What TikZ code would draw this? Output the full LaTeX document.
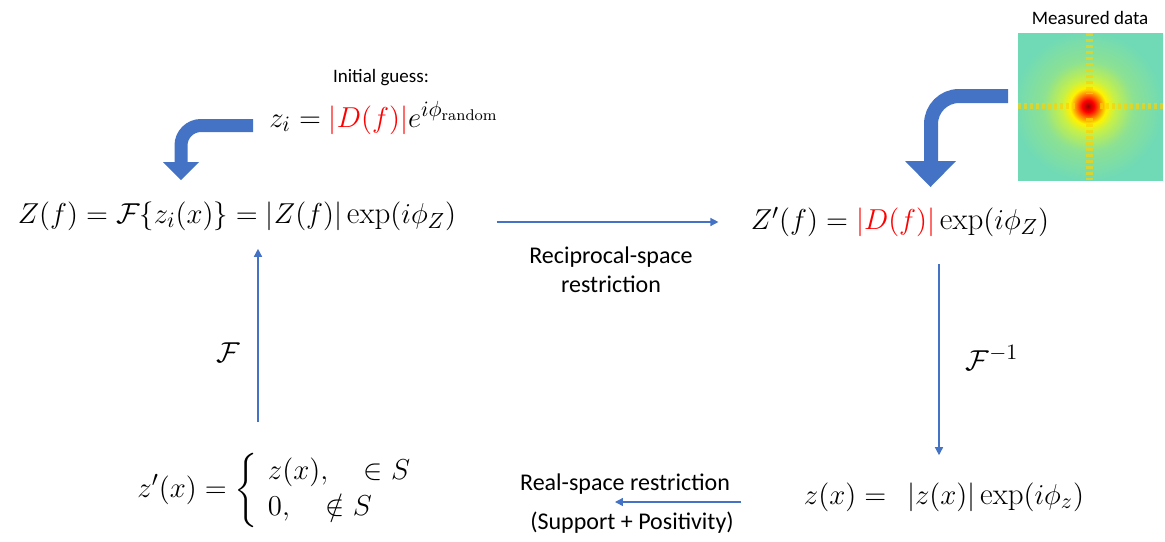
\documentclass[tikz,border=0pt]{standalone}
\usepackage{amsmath,amssymb}
\usepackage{fontspec}
\newfontfamily\calib{Carlito}
\usetikzlibrary{arrows.meta,calc}
\definecolor{pptblue}{RGB}{68,114,196}
\definecolor{mapbase}{RGB}{112,218,182}
\pgfdeclareradialshading{peak}{\pgfpoint{0bp}{0bp}}{color(0bp)=(red!60!black);color(2bp)=(red);color(4bp)=(orange);color(6bp)=(yellow!90!orange);color(9bp)=(yellow!60!mapbase);color(15bp)=(mapbase!80!yellow);color(25bp)=(mapbase);color(50bp)=(mapbase)}

\begin{document}
\begin{tikzpicture}[x=0.5pt,y=-0.5pt,
  eq/.style={inner sep=0pt,font=\fontsize{15.5}{18}\selectfont},
  lab/.style={inner sep=0pt,font=\calib\fontsize{12}{14.5}\selectfont},
  small/.style={inner sep=0pt,font=\calib\fontsize{9.5}{11}\selectfont},
  flow/.style={draw=pptblue,line width=0.7pt,-{Triangle[length=4pt,width=4pt]}},
  blockarrow/.style={draw=pptblue,line width=6.5pt},
  streak/.style={draw=yellow!70!orange,opacity=.7,dash pattern=on 1.5pt off 1.5pt}]
\useasboundingbox (0,0) rectangle (1165,541);
% measured diffraction pattern
\node[small] (measlab) at (1090,18) {Measured data};
\begin{scope}
\clip (1018,33) rectangle (1165,180);
\shade[shading=peak] (1013,31) rectangle (1163,181);
\draw[streak,line width=3.5pt] (1089,33) -- (1089,94) (1089,118) -- (1089,180);
\draw[streak,line width=3pt] (1018,106) -- (1076,106) (1100,106) -- (1165,106);
\end{scope}
% block arrows
\draw[blockarrow,rounded corners=10pt] (253,125.5) -- (181,125.5) -- (181,164);
\fill[pptblue] (163,162) -- (199,162) -- (181,180) -- cycle;
\draw[blockarrow,line width=7pt,rounded corners=14pt] (1008,96) -- (931,96) -- (931,163);
\fill[pptblue] (905,161) -- (956,161) -- (930.5,187) -- cycle;
% equations
\node[small] (guesslab) at (381,78) {Initial guess:};
\node[eq] (guess) at (384,118) {$z_i=\textcolor{red}{|D(f)|}e^{i\phi_{\mathrm{random}}}$};
\node[eq] (Z) at (237,216) {$Z(f)=\mathcal{F}\{z_i(x)\}=|Z(f)|\exp(i\phi_Z)$};
\node[eq] (Zp) at (900,222) {$Z'(f)=\textcolor{red}{|D(f)|}\exp(i\phi_Z)$};
\node[eq] (zx) at (944,497) {$z(x)=\;\,|z(x)|\exp(i\phi_z)$};
\node[eq] (zp) at (280,490) {$z'(x)=\left\{\begin{array}{l} z(x),\quad \in S\\ 0,\quad \notin S\end{array}\right.$};
% labels
\node[lab,align=center] (recip) at (611,270) {Reciprocal-space\\restriction};
\node[lab] (real) at (625,484) {Real-space restriction};
\node[lab] (supp) at (632,523) {(Support + Positivity)};
\node[eq] (F) at (228,353) {$\mathcal{F}$};
\node[eq] (Finv) at (992,358) {$\mathcal{F}^{-1}$};
% cycle arrows
\draw[flow] ($(Z.east |- Zp)+(40,0)$) -- ($(Zp.west)+(-32,0)$);
\draw[flow] ($(Zp.south)+(39,27)$) -- ($(Zp.south |- zx.north)+(39,-27)$);
\draw[flow] ($(zx.west)+(-63,5)$) -- ($(zp.east |- zx.west)+(192,5)$);
\draw[flow] ($(zp.north -| Z.south)+(21,-30)$) -- ($(Z.south)+(21,18)$);
\end{tikzpicture}
\end{document}
